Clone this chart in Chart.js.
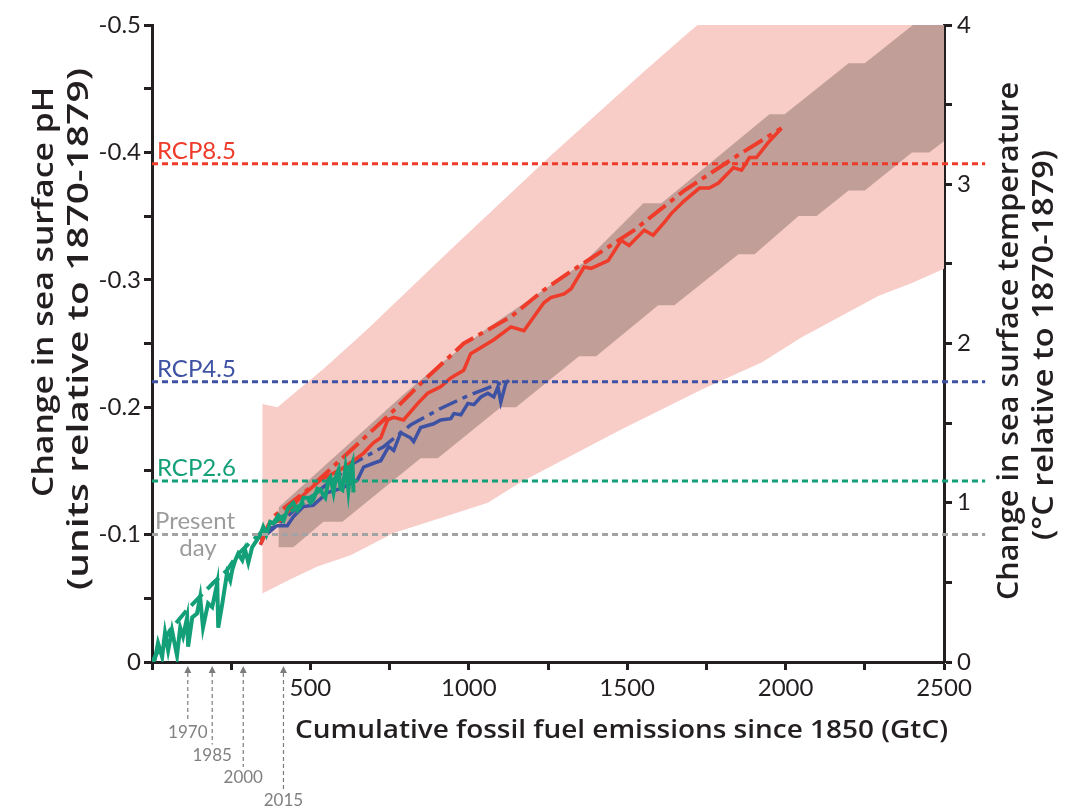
<!DOCTYPE html>
<html>
<head>
<meta charset="utf-8">
<script src="https://cdn.jsdelivr.net/npm/chart.js@4.4.1/dist/chart.umd.min.js"></script>
<style>
  html, body { margin: 0; padding: 0; background: #ffffff; }
  #wrap { width: 1066px; height: 810px; position: relative; }
</style>
</head>
<body>
<div id="wrap"><canvas id="c" width="1066" height="810"></canvas></div>
<script>
// ---- Temperature ranges (°C vs cumulative GtC) ----
const pinkLower = [[348,0.43],[437,0.52],[522,0.60],[627,0.67],[763,0.81],[921,0.91],[1060,1.00],[1165,1.13],[1481,1.46],[1734,1.71],[1924,1.88],[2051,2.04],[2294,2.30],[2399,2.38],[2500,2.47]];
const pinkUpper = [[348,1.62],[396,1.60],[541,1.84],[680,2.09],[943,2.59],[1259,3.18],[1554,3.71],[1680,3.93],[1728,4.01],[2500,5.40]];
const darkLower = [[399,0.72],[446,0.72],[541,0.88],[601,0.88],[848,1.28],[902,1.28],[1101,1.60],[1149,1.60],[1348,1.92],[1402,1.92],[1598,2.24],[1649,2.24],[1851,2.56],[1902,2.56],[2041,2.80],[2098,2.80],[2199,2.96],[2250,2.96],[2399,3.20],[2453,3.20],[2500,3.27]];
const darkUpper = [[399,0.97],[794,1.68],[889,1.84],[1054,2.09],[1364,2.51],[1551,2.88],[1608,2.88],[1949,3.44],[1997,3.44],[2199,3.76],[2250,3.76],[2408,4.01],[2500,4.17]];

// ---- Sea surface pH change vs cumulative GtC ----
const histGreen = [[0,0],[9,-0.002],[19,-0.015],[32,-0.004],[41,-0.023],[51,-0.009],[63,-0.025],[79,-0.005],[89,-0.027],[98,-0.020],[111,-0.035],[114,-0.012],[127,-0.035],[142,-0.038],[152,-0.051],[161,-0.027],[177,-0.046],[190,-0.043],[206,-0.062],[209,-0.027],[222,-0.046],[237,-0.070],[247,-0.064],[253,-0.072],[263,-0.080],[272,-0.085],[285,-0.080],[294,-0.088],[304,-0.078],[316,-0.090],[332,-0.096],[342,-0.100],[351,-0.106],[361,-0.100],[373,-0.110],[383,-0.109],[399,-0.115],[415,-0.111],[430,-0.121],[446,-0.125],[459,-0.119],[468,-0.122],[478,-0.129],[491,-0.129],[500,-0.125],[509,-0.127],[522,-0.136],[532,-0.135],[541,-0.131],[547,-0.129],[557,-0.143],[563,-0.145],[573,-0.133],[582,-0.147],[589,-0.151],[595,-0.136],[601,-0.135],[611,-0.153],[617,-0.143],[620,-0.135],[627,-0.151],[633,-0.156],[636,-0.133]];
const greenFit = [[0,0],[57,-0.025],[111,-0.041],[158,-0.053],[193,-0.062],[237,-0.072],[269,-0.084],[310,-0.094],[342,-0.101],[405,-0.113],[468,-0.123],[532,-0.135],[633,-0.155]];
const redModel = [[342,-0.092],[373,-0.109],[405,-0.111],[468,-0.129],[532,-0.143],[595,-0.151],[636,-0.158],[668,-0.164],[699,-0.172],[722,-0.176],[744,-0.190],[763,-0.192],[794,-0.190],[839,-0.203],[870,-0.211],[911,-0.216],[943,-0.223],[984,-0.229],[1006,-0.242],[1079,-0.253],[1133,-0.263],[1174,-0.260],[1237,-0.282],[1259,-0.286],[1301,-0.289],[1323,-0.293],[1364,-0.310],[1386,-0.309],[1440,-0.315],[1481,-0.331],[1506,-0.327],[1554,-0.339],[1582,-0.335],[1617,-0.345],[1639,-0.352],[1680,-0.362],[1728,-0.372],[1759,-0.372],[1788,-0.376],[1835,-0.388],[1861,-0.386],[1886,-0.396],[1908,-0.396],[1946,-0.408],[1987,-0.419]];
const redFit = [[342,-0.096],[383,-0.114],[500,-0.137],[627,-0.166],[753,-0.195],[858,-0.221],[984,-0.250],[1133,-0.271],[1237,-0.292],[1313,-0.305],[1522,-0.339],[1680,-0.370],[1851,-0.398],[1987,-0.419]];
const blueModel = [[342,-0.092],[364,-0.104],[396,-0.107],[427,-0.107],[446,-0.114],[478,-0.122],[509,-0.123],[554,-0.133],[595,-0.136],[627,-0.140],[649,-0.143],[668,-0.153],[699,-0.156],[722,-0.158],[747,-0.169],[763,-0.166],[785,-0.180],[816,-0.176],[826,-0.173],[848,-0.184],[889,-0.187],[911,-0.190],[943,-0.191],[953,-0.195],[975,-0.194],[997,-0.203],[1016,-0.202],[1038,-0.208],[1060,-0.211],[1079,-0.208],[1092,-0.216],[1101,-0.204],[1117,-0.219],[1127,-0.221]];
const blueFit = [[342,-0.096],[468,-0.123],[636,-0.156],[731,-0.169],[816,-0.186],[911,-0.199],[997,-0.209],[1101,-0.219]];

// ---- Reference pH levels ----
const levelNames = ['RCP8.5', 'RCP4.5', 'RCP2.6', 'Present day'];
const levelValues = [-0.391, -0.22, -0.142, -0.10];
const levelColors = ['#ee3b2a', '#3e52a4', '#13a079', '#a3a3a3'];

// ---- Year markers along the emissions axis ----
const yearLabels = ['1970', '1985', '2000', '2015'];
const yearEmissions = [113, 190, 288, 415];

const pts = arr => arr.map(p => ({x: p[0], y: p[1]}));
const INK = '#231f20';
const FONT = 'Lato, "Open Sans", sans-serif';
const TITLE_FONT = '"Open Sans", Lato, sans-serif';

const datasets = [
  // light range
  {data: pts(pinkLower), yAxisID: 'yT', borderWidth: 0, pointRadius: 0, fill: false, order: 40},
  {data: pts(pinkUpper), yAxisID: 'yT', borderWidth: 0, pointRadius: 0, fill: '-1', backgroundColor: '#f8cdc7', order: 39},
  // darker range
  {data: pts(darkLower), yAxisID: 'yT', borderWidth: 0, pointRadius: 0, fill: false, order: 30},
  {data: pts(darkUpper), yAxisID: 'yT', borderWidth: 0, pointRadius: 0, fill: '-1', backgroundColor: '#c29e99', order: 29},
  // scenario lines
  {data: pts(blueModel), yAxisID: 'yPH', borderColor: '#3e52a4', borderWidth: 3.5, pointRadius: 0, fill: false, order: 12},
  {data: pts(blueFit), yAxisID: 'yPH', borderColor: '#3e52a4', borderWidth: 3.5, borderDash: [20,6,5,6], pointRadius: 0, fill: false, order: 13},
  {data: pts(redModel), yAxisID: 'yPH', borderColor: '#ee3b2a', borderWidth: 3.5, pointRadius: 0, fill: false, order: 10},
  {data: pts(redFit), yAxisID: 'yPH', borderColor: '#ee3b2a', borderWidth: 4, borderDash: [22,6,5,6], pointRadius: 0, fill: false, order: 11},
  {data: pts(greenFit), yAxisID: 'yPH', borderColor: '#13a079', borderWidth: 4, borderDash: [16,7], pointRadius: 0, fill: false, order: 6},
  {data: pts(histGreen), yAxisID: 'yPH', borderColor: '#13a079', borderWidth: 4, pointRadius: 0, fill: false, order: 5}
];
// dotted horizontal pH levels, running past the right axis
levelValues.forEach((v, i) => {
  datasets.push({
    data: [{x: 0, y: v}, {x: 2630, y: v}], yAxisID: 'yPH',
    borderColor: levelColors[i], borderWidth: 3, borderDash: [6, 4],
    pointRadius: 0, fill: false, clip: false, order: 2
  });
});

const decorations = {
  id: 'decorations',
  afterDraw(chart) {
    const ctx = chart.ctx;
    const area = chart.chartArea;
    const x = chart.scales.x, yPH = chart.scales.yPH;
    ctx.save();

    // level labels
    ctx.textAlign = 'left';
    ctx.textBaseline = 'alphabetic';
    ctx.font = '24px ' + FONT;
    levelNames.forEach((name, i) => {
      const py = yPH.getPixelForValue(levelValues[i]);
      ctx.fillStyle = i === 3 ? '#9c9c9c' : levelColors[i];
      if (i === 3) {
        ctx.fillText('Present', area.left + 3, py - 6);
        ctx.textAlign = 'center';
        ctx.fillText('day', area.left + 46, py + 21);
        ctx.textAlign = 'left';
      } else {
        ctx.fillText(name, area.left + 5, py - 5);
      }
    });

    // year markers
    ctx.font = '17px ' + FONT;
    ctx.textAlign = 'center';
    ctx.textBaseline = 'middle';
    yearLabels.forEach((lab, i) => {
      const px = x.getPixelForValue(yearEmissions[i]);
      const tip = area.bottom + 4;
      const ly = 733 + i * 22.5;
      ctx.fillStyle = '#7c7c7c';
      ctx.beginPath();
      ctx.moveTo(px, tip);
      ctx.lineTo(px - 3.5, tip + 7);
      ctx.lineTo(px + 3.5, tip + 7);
      ctx.closePath();
      ctx.fill();
      ctx.strokeStyle = '#7c7c7c';
      ctx.lineWidth = 1.2;
      ctx.setLineDash([4, 3]);
      ctx.beginPath();
      ctx.moveTo(px, tip + 7);
      ctx.lineTo(px, ly - 11);
      ctx.stroke();
      ctx.setLineDash([]);
      ctx.fillStyle = '#808080';
      ctx.fillText(lab, px, ly);
    });

    // axis titles, each set to its run length
    ctx.fillStyle = INK;
    const titleText = (t, cx, cy, len, size, vertical, align) => {
      ctx.save();
      ctx.font = '600 ' + size + 'px ' + TITLE_FONT;
      const sx = len / ctx.measureText(t).width;
      ctx.translate(cx, cy);
      if (vertical) ctx.rotate(-Math.PI / 2);
      ctx.scale(sx, 1);
      ctx.textAlign = align;
      ctx.textBaseline = 'middle';
      ctx.fillText(t, 0, 0);
      ctx.restore();
    };
    titleText('Change in sea surface pH', 45, 292, 410, 29, true, 'center');
    titleText('(units relative to 1870-1879)', 80, 329, 522, 29, true, 'center');
    titleText('Change in sea surface temperature', 1010, 341, 518, 29, true, 'center');
    titleText('(°C relative to 1870-1879)', 1045, 345, 390, 29, true, 'center');
    titleText('Cumulative fossil fuel emissions since 1850 (GtC)', 295, 731, 653, 26, false, 'left');
    ctx.restore();
  }
};

const axisGrid = {display: true, drawOnChartArea: false, drawTicks: true, tickLength: 8, tickWidth: 3, tickColor: INK};
const axisBorder = {display: true, color: INK, width: 3};
const tickFont = {family: FONT, size: 24};

new Chart(document.getElementById('c'), {
  type: 'line',
  data: {datasets},
  options: {
    responsive: false,
    animation: false,
    events: [],
    layout: {padding: {top: 25, left: 0, right: 0, bottom: 0}},
    plugins: {legend: {display: false}, tooltip: {enabled: false}},
    scales: {
      x: {
        type: 'linear', min: 0, max: 2500,
        grid: axisGrid, border: axisBorder,
        ticks: {stepSize: 250, color: INK, font: tickFont, padding: 4, maxRotation: 0,
          callback: v => (v > 0 && v % 500 === 0) ? String(v) : ''},
        afterFit: s => { s.height = 148; }
      },
      yPH: {
        type: 'linear', position: 'left', min: -0.5, max: 0, reverse: true,
        grid: axisGrid, border: axisBorder,
        ticks: {stepSize: 0.05, color: INK, font: tickFont, padding: 3,
          callback: v => {
            const k = Math.round(v * 100);
            if (k % 10 !== 0) return '';
            return k === 0 ? '0' : (k / 100).toFixed(1);
          }},
        afterFit: s => { s.width = 152; }
      },
      yT: {
        type: 'linear', position: 'right', min: 0, max: 4,
        grid: axisGrid, border: axisBorder,
        ticks: {stepSize: 0.5, color: INK, font: tickFont, padding: 5,
          callback: v => Number.isInteger(v) ? String(v) : ''},
        afterFit: s => { s.width = 122; }
      }
    }
  },
  plugins: [decorations]
});
</script>
</body>
</html>
